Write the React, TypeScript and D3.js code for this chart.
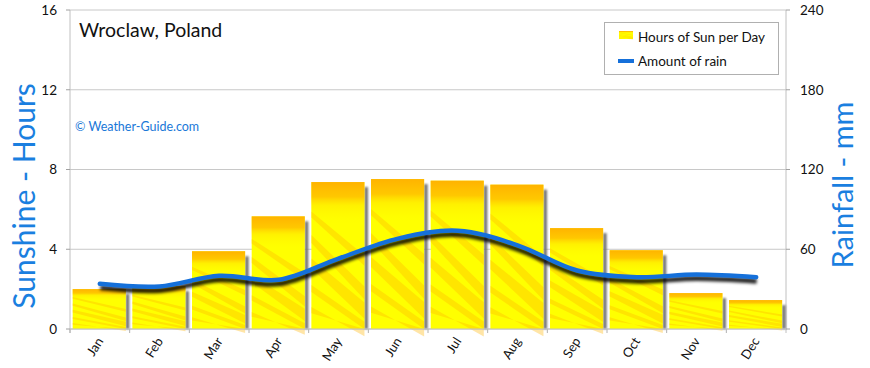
import React from 'react';
import * as d3 from 'd3';

const months = ['Jan', 'Feb', 'Mar', 'Apr', 'May', 'Jun', 'Jul', 'Aug', 'Sep', 'Oct', 'Nov', 'Dec'];
const sunHours = [2.0, 2.15, 3.9, 5.65, 7.37, 7.52, 7.44, 7.24, 5.06, 3.95, 1.8, 1.45];
const rainMm = [34, 32, 40, 37, 53, 68, 74, 63, 44, 39, 41, 39];
const sunTicks = [0, 4, 8, 12, 16];
const rainTicks = [0, 60, 120, 180, 240];
// decorative streaks of the bar texture, in bar-relative units
const streaks = [
  [0.2, 0.3, 0.07],
  [0.36, 0.35, 0.09],
  [0.52, 0.3, 0.11],
  [0.7, 0.25, 0.08],
  [0.85, 0.2, 0.07],
];

const W = 870;
const H = 368;
const M = { left: 70, right: 84, top: 10, bottom: 39 };
const FONT = 'Lato, "Open Sans", sans-serif';

function Texture({ x, y, w, h }: { x: number; y: number; w: number; h: number }) {
  return (
    <g transform={`translate(${x},${y}) scale(${w},${h})`}>
      <rect x={0} y={0} width={1} height={1} fill="#FFFF00" />
      {streaks.map((s, i) => (
        <path
          key={i}
          d={`M0,${s[0]} L1,${s[0] + s[1]} L1,${Math.min(1, s[0] + s[1] + s[2])} L0,${s[0] + s[2] * 0.6} Z`}
          fill="#FFB400"
          opacity={0.35}
        />
      ))}
      <rect x={0} y={0} width={1} height={1} fill="url(#topGlow)" />
    </g>
  );
}

export default function App() {
  const x = d3.scaleBand<string>().domain(months).range([M.left, W - M.right]).padding(0);
  const ySun = d3.scaleLinear().domain([0, 16]).range([H - M.bottom, M.top]);
  const yRain = d3.scaleLinear().domain([0, 240]).range([H - M.bottom, M.top]);
  const bw = x.bandwidth();
  const barW = bw * 0.89;
  const barOff = bw * 0.045;
  const base = ySun(0);

  const line = d3
    .line<number>()
    .x((_, i) => (x(months[i]) as number) + bw / 2)
    .y((d) => yRain(d))
    .curve(d3.curveCatmullRom.alpha(0.5));
  const linePath = line(rainMm) || '';

  return (
    <svg width={W} height={H} style={{ position: 'absolute', left: 0, top: 0, background: '#fff' }} fontFamily={FONT}>
      <defs>
        <linearGradient id="topGlow" x1="0" y1="0" x2="0" y2="1">
          <stop offset="0" stopColor="#FFA000" stopOpacity="0.8" />
          <stop offset="0.1" stopColor="#FFAA00" stopOpacity="0.65" />
          <stop offset="0.16" stopColor="#FFD000" stopOpacity="0.3" />
          <stop offset="0.28" stopColor="#FFF000" stopOpacity="0" />
        </linearGradient>
        <filter id="blur1" x="-50%" y="-10%" width="200%" height="120%">
          <feGaussianBlur stdDeviation="0.8" />
        </filter>
        <filter id="blur2" x="-10%" y="-50%" width="120%" height="200%">
          <feGaussianBlur stdDeviation="1.8" />
        </filter>
      </defs>

      {/* grid */}
      {sunTicks.map((t) => (
        <line key={t} x1={M.left} x2={W - M.right} y1={ySun(t)} y2={ySun(t)} stroke="#c8c8c8" strokeWidth={1} />
      ))}
      {/* axes */}
      <line x1={M.left} x2={M.left} y1={M.top} y2={base + 4} stroke="#c0c0c0" />
      <line x1={W - M.right} x2={W - M.right} y1={M.top} y2={base + 4} stroke="#c0c0c0" />
      {sunTicks.map((t) => (
        <g key={'l' + t}>
          <line x1={M.left - 4} x2={M.left} y1={ySun(t)} y2={ySun(t)} stroke="#a0a0a0" />
          <text x={M.left - 13} y={ySun(t)} dy="0.36em" textAnchor="end" fontSize={13.5} fill="#111">
            {t}
          </text>
        </g>
      ))}
      {rainTicks.map((t) => (
        <g key={'r' + t}>
          <line x1={W - M.right} x2={W - M.right + 4} y1={yRain(t)} y2={yRain(t)} stroke="#a0a0a0" />
          <text x={W - M.right + 14} y={yRain(t)} dy="0.36em" textAnchor="start" fontSize={13.5} fill="#111">
            {t}
          </text>
        </g>
      ))}

      {/* bars */}
      {sunHours.map((v, i) => {
        const x0 = (x(months[i]) as number) + barOff;
        const top = ySun(v);
        return (
          <g key={'b' + i}>
            <rect x={x0 + barW} y={top + 5} width={3.5} height={base - top - 5} fill="#707070" filter="url(#blur1)" />
            <Texture x={x0} y={top} w={barW} h={base - top} />
          </g>
        );
      })}

      {/* x axis ticks */}
      {months.map((m) => (
        <line key={'t' + m} x1={(x(m) as number)} x2={(x(m) as number)} y1={base} y2={base + 4} stroke="#b0b0b0" />
      ))}
      <line x1={M.left} x2={W - M.right} y1={base} y2={base} stroke="#c0c0c0" />
      {months.map((m) => {
        const cx = (x(m) as number) + bw / 2 + 4;
        return (
          <text key={'x' + m} transform={`translate(${cx},${base + 12}) rotate(-58)`} textAnchor="end" fontSize={13} fill="#111">
            {m}
          </text>
        );
      })}

      {/* rain line */}
      <path d={linePath} transform="translate(0.5,4)" fill="none" stroke="#000" strokeOpacity={0.85} strokeWidth={5} filter="url(#blur2)" />
      <path d={linePath} fill="none" stroke="#1570DA" strokeWidth={4.5} strokeLinecap="round" />

      {/* titles */}
      <text x={79} y={37} fontSize={19.5} fill="#111">Wroclaw, Poland</text>
      <text x={75} y={131} fontSize={12.5} fill="#1a78d8">© Weather-Guide.com</text>
      <text transform={`translate(35,${196}) rotate(-90)`} textAnchor="middle" fontSize={30} fill="#1a7fe0">
        Sunshine - Hours
      </text>
      <text transform={`translate(853,${185}) rotate(-90)`} textAnchor="middle" fontSize={29} fill="#1a7fe0">
        Rainfall - mm
      </text>

      {/* legend */}
      <rect x={604.5} y={22.5} width={174} height={52} fill="#fff" stroke="#b0b0b0" />
      <Texture x={619} y={31} w={14} h={8} />
      <text x={638} y={42} fontSize={13.5} fill="#111">Hours of Sun per Day</text>
      <line x1={618} x2={634} y1={61} y2={61} stroke="#1570DA" strokeWidth={4} />
      <text x={638} y={66} fontSize={13.5} fill="#111">Amount of rain</text>
    </svg>
  );
}
